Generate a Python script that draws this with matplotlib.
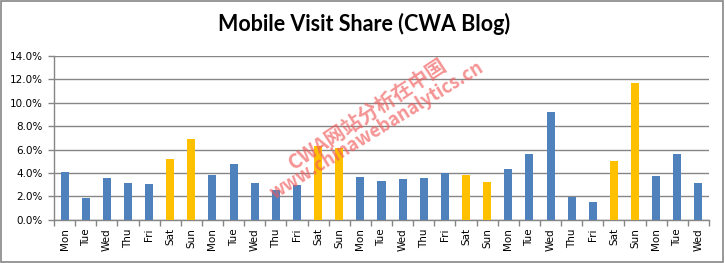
import matplotlib
matplotlib.use("Agg")
import matplotlib.pyplot as plt
from matplotlib.patches import Rectangle
from matplotlib.ticker import FuncFormatter, FixedLocator
import numpy as np

days = ["Mon", "Tue", "Wed", "Thu", "Fri", "Sat", "Sun",
        "Mon", "Tue", "Wed", "Thu", "Fri", "Sat", "Sun",
        "Mon", "Tue", "Wed", "Thu", "Fri", "Sat", "Sun",
        "Mon", "Tue", "Wed", "Thu", "Fri", "Sat", "Sun",
        "Mon", "Tue", "Wed"]
share = [4.08, 1.85, 3.59, 3.14, 3.05, 5.22, 6.90,
         3.82, 4.76, 3.14, 2.54, 2.97, 6.30, 6.16,
         3.65, 3.31, 3.48, 3.56, 4.02, 3.82, 3.22,
         4.33, 5.62, 9.21, 1.97, 1.51, 5.02, 11.69,
         3.74, 5.62, 3.14]
title = "Mobile Visit Share (CWA Blog)"
watermark1 = "CWA网站分析在中国"
watermark2 = "www.chinawebanalytics.cn"

blue = "#4F81BD"
gold = "#FFC000"
grid = "#868686"

W, H = 725, 263
fig = plt.figure(figsize=(W / 100, H / 100), dpi=100)
ax = fig.add_axes([54 / W, 1 - 219.7 / H, (709 - 54) / W, (219.7 - 56) / H])

x = np.arange(len(days))
colors = [gold if d in ("Sat", "Sun") else blue for d in days]
ax.bar(x, share, width=0.38, color=colors, zorder=3)

ax.set_xlim(-0.5, len(days) - 0.5)
ax.set_ylim(0, 14)
ax.set_yticks(np.arange(0, 14.01, 2))
ax.yaxis.set_major_formatter(FuncFormatter(lambda v, p: f"{v:.1f}%"))
ax.yaxis.grid(True, color=grid, linewidth=1.0, zorder=0)
ax.set_axisbelow(True)

ax.set_xticks(x)
ax.set_xticklabels(days, rotation=90, fontsize=7.5, family="DejaVu Sans")
ax.xaxis.set_minor_locator(FixedLocator(np.arange(-0.5, len(days), 1)))
ax.tick_params(axis="x", which="major", length=0, pad=6)
ax.tick_params(axis="x", which="minor", length=4, color=grid, width=1)
ax.tick_params(axis="y", which="major", length=4, color=grid, width=1, labelsize=7.5, pad=4)
for lab in ax.get_yticklabels():
    lab.set_family("DejaVu Sans")

for s in ["top", "right"]:
    ax.spines[s].set_visible(False)
for s in ["left", "bottom"]:
    ax.spines[s].set_color(grid)
    ax.spines[s].set_linewidth(1.0)

fig.text(0.5 + 2 / W, 1 - 24 / H, title, ha="center", va="center",
         fontsize=15.5, fontweight="bold", family="Lato")

fig.text(367 / W, 1 - 114 / H, watermark1, ha="center", va="center",
         rotation=33.5, rotation_mode="anchor", fontsize=14.5, fontweight="bold",
         color="#F05A5A", alpha=0.65, family=["Noto Sans CJK SC", "DejaVu Sans"], zorder=10)
fig.text(377 / W, 1 - 130 / H, watermark2, ha="center", va="center",
         rotation=31.5, rotation_mode="anchor", fontsize=13, fontweight="bold",
         color="#F05A5A", alpha=0.65, family=["Noto Sans CJK SC", "DejaVu Sans"], zorder=10)

fig.patches.append(Rectangle((0.5 / W, 1.5 / H), 722.5 / W, 260.5 / H,
                             transform=fig.transFigure, fill=False,
                             edgecolor=grid, linewidth=1.2))

fig.savefig("out.png", dpi=100)
